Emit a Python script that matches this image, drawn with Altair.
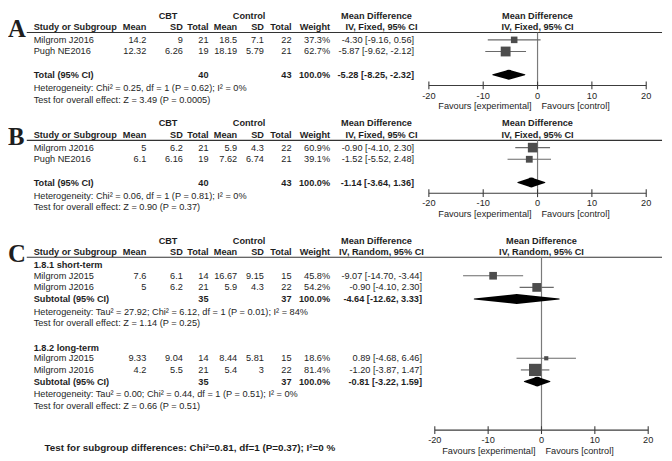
import altair as alt
import pandas as pd

# ============================ data ============================
# Panel A
A_study = ["Milgrom J2016", "Pugh NE2016"]
A_cbt_mean = [14.2, 12.32]
A_cbt_sd = [9, 6.26]
A_cbt_n = [21, 19]
A_ctl_mean = [18.5, 18.19]
A_ctl_sd = [7.1, 5.79]
A_ctl_n = [22, 21]
A_weight = [37.3, 62.7]
A_md = [-4.30, -5.87]
A_lo = [-9.16, -9.62]
A_hi = [0.56, -2.12]
A_total_n = [40, 43]
A_pooled = [-5.28, -8.25, -2.32]          # MD, lower, upper
A_het = "Heterogeneity: Chi² = 0.25, df = 1 (P = 0.62); I² = 0%"
A_effect = "Test for overall effect: Z = 3.49 (P = 0.0005)"

# Panel B
B_study = ["Milgrom J2016", "Pugh NE2016"]
B_cbt_mean = [5, 6.1]
B_cbt_sd = [6.2, 6.16]
B_cbt_n = [21, 19]
B_ctl_mean = [5.9, 7.62]
B_ctl_sd = [4.3, 6.74]
B_ctl_n = [22, 21]
B_weight = [60.9, 39.1]
B_md = [-0.90, -1.52]
B_lo = [-4.10, -5.52]
B_hi = [2.30, 2.48]
B_total_n = [40, 43]
B_pooled = [-1.14, -3.64, 1.36]
B_het = "Heterogeneity: Chi² = 0.06, df = 1 (P = 0.81); I² = 0%"
B_effect = "Test for overall effect: Z = 0.90 (P = 0.37)"

# Panel C, subgroup 1.8.1
C1_label = "1.8.1 short-term"
C1_study = ["Milgrom J2015", "Milgrom J2016"]
C1_cbt_mean = [7.6, 5]
C1_cbt_sd = [6.1, 6.2]
C1_cbt_n = [14, 21]
C1_ctl_mean = [16.67, 5.9]
C1_ctl_sd = [9.15, 4.3]
C1_ctl_n = [15, 22]
C1_weight = [45.8, 54.2]
C1_md = [-9.07, -0.90]
C1_lo = [-14.70, -4.10]
C1_hi = [-3.44, 2.30]
C1_total_n = [35, 37]
C1_pooled = [-4.64, -12.62, 3.33]
C1_het = "Heterogeneity: Tau² = 27.92; Chi² = 6.12, df = 1 (P = 0.01); I² = 84%"
C1_effect = "Test for overall effect: Z = 1.14 (P = 0.25)"

# Panel C, subgroup 1.8.2
C2_label = "1.8.2 long-term"
C2_study = ["Milgrom J2015", "Milgrom J2016"]
C2_cbt_mean = [9.33, 4.2]
C2_cbt_sd = [9.04, 5.5]
C2_cbt_n = [14, 21]
C2_ctl_mean = [8.44, 5.4]
C2_ctl_sd = [5.81, 3]
C2_ctl_n = [15, 22]
C2_weight = [18.6, 81.4]
C2_md = [0.89, -1.20]
C2_lo = [-4.68, -3.87]
C2_hi = [6.46, 1.47]
C2_total_n = [35, 37]
C2_pooled = [-0.81, -3.22, 1.59]
C2_het = "Heterogeneity: Tau² = 0.00; Chi² = 0.44, df = 1 (P = 0.51); I² = 0%"
C2_effect = "Test for overall effect: Z = 0.66 (P = 0.51)"
C_subgroup_test = "Test for subgroup differences: Chi²=0.81, df=1 (P=0.37); I²=0 %"

GROUP_HEADERS = ["CBT", "Control"]
COL_HEADERS = ["Study or Subgroup", "Mean", "SD", "Total", "Mean", "SD", "Total", "Weight"]
EFFECT_HEADER = "Mean Difference"
METHOD = {"A": "IV, Fixed, 95% CI", "B": "IV, Fixed, 95% CI", "C": "IV, Random, 95% CI"}
AXIS_TICKS = [-20, -10, 0, 10, 20]
FAVOURS = ["Favours [experimental]", "Favours [control]"]
TOTAL_LABEL = "Total (95% CI)"
SUBTOTAL_LABEL = "Subtotal (95% CI)"


def pack(study, cm, cs, cn, tm, ts, tn, w, md, lo, hi, tot, pooled):
    return dict(study=study, cbt_mean=cm, cbt_sd=cs, cbt_n=cn, ctl_mean=tm,
                ctl_sd=ts, ctl_n=tn, weight=w, md=md, lo=lo, hi=hi,
                total_n=tot, pooled=pooled)


BLOCK_A = pack(A_study, A_cbt_mean, A_cbt_sd, A_cbt_n, A_ctl_mean, A_ctl_sd, A_ctl_n,
               A_weight, A_md, A_lo, A_hi, A_total_n, A_pooled)
BLOCK_B = pack(B_study, B_cbt_mean, B_cbt_sd, B_cbt_n, B_ctl_mean, B_ctl_sd, B_ctl_n,
               B_weight, B_md, B_lo, B_hi, B_total_n, B_pooled)
BLOCK_C1 = pack(C1_study, C1_cbt_mean, C1_cbt_sd, C1_cbt_n, C1_ctl_mean, C1_ctl_sd, C1_ctl_n,
                C1_weight, C1_md, C1_lo, C1_hi, C1_total_n, C1_pooled)
BLOCK_C2 = pack(C2_study, C2_cbt_mean, C2_cbt_sd, C2_cbt_n, C2_ctl_mean, C2_ctl_sd, C2_ctl_n,
                C2_weight, C2_md, C2_lo, C2_hi, C2_total_n, C2_pooled)

# ============================ layout / style ============================
TEXT_COLOR = "#1e1e1e"
SQUARE_COLOR = "#4d4d4d"
CI_COLOR = "#6a6a6a"
ZERO_COLOR = "#7a7a7a"
AXIS_COLOR = "#3c3c3c"
SANS = "Liberation Sans"
SERIF = "Liberation Serif"
FS = 9.3
DIAMOND_H = 10
TICK_HALF = 4

COL_KEYS = ["study", "cbt_mean", "cbt_sd", "cbt_n", "ctl_mean", "ctl_sd", "ctl_n", "weight"]
COL_X = {"study": 34, "cbt_mean": 148, "cbt_sd": 185, "cbt_n": 211, "ctl_mean": 240,
         "ctl_sd": 267, "ctl_n": 295, "weight": 334}
CI_RIGHT = {"A": 419, "B": 419, "C": 427}
GROUP_X = [170, 252]
MD_HEADER_X = 381
METHOD_HEADER_X = 386
LINE_X = [27, 670]
PANEL_BASE = {"A": 0, "B": 111, "C": 232}

TABLE_X = alt.Scale(domain=[8, 672], range=[0, 664])
FOREST_X = {"AB": alt.Scale(domain=[-20, 20], range=[426, 646]),
            "C": alt.Scale(domain=[-20, 20], range=[432, 648])}
Y_SCALE = alt.Scale(domain=[0, 461], range=[0, 453])

recs, hlines, zeros, axes, ticks, studies, diamonds = [], [], [], [], [], [], []


def txt(x, y, s, scale="table", align="left", bold=False, size=FS, font=SANS, dx=0,
        baseline="middle"):
    recs.append(dict(x=x, y=y, text=s, scale=scale, align=align, bold=bold, size=size,
                     font=font, dx=dx, baseline=baseline))


def num(v):
    return f"{v:g}"


def ci_text(md, lo, hi):
    return f"{md:.2f} [{lo:.2f}, {hi:.2f}]"


def panel_frame(letter, sc, line_y, axis_y, ticklab_y, fav_y):
    base = PANEL_BASE[letter]
    txt(8, base + 27, letter, align="left", bold=True, size=25, font=SERIF, baseline="alphabetic")
    g, h = base + 5, base + 17
    txt(GROUP_X[0], g, GROUP_HEADERS[0], align="center", bold=True)
    txt(GROUP_X[1], g, GROUP_HEADERS[1], align="center", bold=True)
    txt(MD_HEADER_X, g, EFFECT_HEADER, align="center", bold=True)
    txt(0, g, EFFECT_HEADER, scale=sc, align="center", bold=True)
    for key, label in zip(COL_KEYS, COL_HEADERS):
        txt(COL_X[key], h, label, align="left" if key == "study" else "right", bold=True)
    txt(METHOD_HEADER_X, h, METHOD[letter], align="center", bold=True)
    txt(0, h, METHOD[letter], scale=sc, align="center", bold=True)
    hlines.append(dict(x1=LINE_X[0], x2=LINE_X[1], y=base + line_y))
    zeros.append(dict(scale=sc, x=0, y1=base + line_y, y2=base + axis_y))
    axes.append(dict(scale=sc, x1=AXIS_TICKS[0], x2=AXIS_TICKS[-1], y=base + axis_y))
    for t in AXIS_TICKS:
        ticks.append(dict(scale=sc, x=t, y1=base + axis_y - TICK_HALF, y2=base + axis_y + TICK_HALF))
        txt(t, base + ticklab_y, str(t), scale=sc, align="center")
    txt(0, base + fav_y, FAVOURS[0], scale=sc, align="right", dx=-6)
    txt(0, base + fav_y, FAVOURS[1], scale=sc, align="left", dx=4)


def block(b, letter, sc, pid, rows_y, total_y, het_y, eff_y, total_label, het, eff):
    base = PANEL_BASE[letter]
    cr = CI_RIGHT[letter]
    for i, y in enumerate(rows_y):
        y = base + y
        txt(COL_X["study"], y, b["study"][i])
        for key in ["cbt_mean", "cbt_sd", "cbt_n", "ctl_mean", "ctl_sd", "ctl_n"]:
            txt(COL_X[key], y, num(b[key][i]), align="right")
        txt(COL_X["weight"], y, f"{b['weight'][i]:.1f}%", align="right")
        txt(cr, y, ci_text(b["md"][i], b["lo"][i], b["hi"][i]), align="right")
        studies.append(dict(scale=sc, y=y, md=b["md"][i], lo=b["lo"][i], hi=b["hi"][i],
                            weight=b["weight"][i]))
    ty = base + total_y
    md, lo, hi = b["pooled"]
    txt(COL_X["study"], ty, total_label, bold=True)
    txt(COL_X["cbt_n"], ty, str(b["total_n"][0]), align="right", bold=True)
    txt(COL_X["ctl_n"], ty, str(b["total_n"][1]), align="right", bold=True)
    txt(COL_X["weight"], ty, f"{sum(b['weight']):.1f}%", align="right", bold=True)
    txt(cr, ty, ci_text(md, lo, hi), align="right", bold=True)
    for role, v in zip(["lo", "md", "hi"], [lo, md, hi]):
        diamonds.append(dict(scale=sc, pid=pid, y=ty, x=v, role=role))
    txt(COL_X["study"], base + het_y, het)
    txt(COL_X["study"], base + eff_y, eff)


# Panels A and B
for letter, blk, het, eff in [("A", BLOCK_A, A_het, A_effect), ("B", BLOCK_B, B_het, B_effect)]:
    panel_frame(letter, "AB", 22.5, 77, 87.5, 98.5)
    block(blk, letter, "AB", letter, [30, 42], 66, 79.5, 91.5, TOTAL_LABEL, het, eff)

# Panel C
panel_frame("C", "C", 22, 200, 210.5, 221.5)
txt(COL_X["study"], PANEL_BASE["C"] + 30, C1_label, bold=True)
block(BLOCK_C1, "C", "C", "C1", [41, 53], 65, 78, 90, SUBTOTAL_LABEL, C1_het, C1_effect)
txt(COL_X["study"], PANEL_BASE["C"] + 115, C2_label, bold=True)
block(BLOCK_C2, "C", "C", "C2", [126, 138], 150, 163, 175, SUBTOTAL_LABEL, C2_het, C2_effect)
txt(45, PANEL_BASE["C"] + 218, C_subgroup_test, bold=True, size=10)

# ============================ layers ============================
def xscale(sc):
    return TABLE_X if sc == "table" else FOREST_X[sc]


def Yq(field):
    return alt.Y(field, scale=Y_SCALE, axis=None)


layers = []

# header lines
layers.append(
    alt.Chart(pd.DataFrame(hlines)).mark_rule(color="#333333", strokeWidth=1.1).encode(
        x=alt.X("x1:Q", scale=TABLE_X, axis=None), x2="x2:Q", y=Yq("y:Q"))
)

for sc in ["AB", "C"]:
    X = FOREST_X[sc]
    z = pd.DataFrame([r for r in zeros if r["scale"] == sc])
    layers.append(alt.Chart(z).mark_rule(color=ZERO_COLOR, strokeWidth=1.2).encode(
        x=alt.X("x:Q", scale=X, axis=None), y=Yq("y1:Q"), y2="y2:Q"))
    s = pd.DataFrame([r for r in studies if r["scale"] == sc])
    layers.append(alt.Chart(s).mark_rule(color=CI_COLOR, strokeWidth=1.2).encode(
        x=alt.X("lo:Q", scale=X, axis=None), x2="hi:Q", y=Yq("y:Q")))
    layers.append(alt.Chart(s).transform_calculate(
        area="pow(1.8 + 0.13 * datum.weight, 2)").mark_square(
        color=SQUARE_COLOR, opacity=1, filled=True).encode(
        x=alt.X("md:Q", scale=X, axis=None), y=Yq("y:Q"),
        size=alt.Size("area:Q", scale=None)))
    d = pd.DataFrame([r for r in diamonds if r["scale"] == sc])
    layers.append(alt.Chart(d).transform_calculate(
        w=f"datum.role == 'md' ? {DIAMOND_H} : 0").mark_trail(color="#000000").encode(
        x=alt.X("x:Q", scale=X, axis=None), y=Yq("y:Q"),
        size=alt.Size("w:Q", scale=None), detail="pid:N", order=alt.Order("x:Q")))
    a = pd.DataFrame([r for r in axes if r["scale"] == sc])
    layers.append(alt.Chart(a).mark_rule(color=AXIS_COLOR, strokeWidth=1.1).encode(
        x=alt.X("x1:Q", scale=X, axis=None), x2="x2:Q", y=Yq("y:Q")))
    t = pd.DataFrame([r for r in ticks if r["scale"] == sc])
    layers.append(alt.Chart(t).mark_rule(color=AXIS_COLOR, strokeWidth=1.1).encode(
        x=alt.X("x:Q", scale=X, axis=None), y=Yq("y1:Q"), y2="y2:Q"))

tdf = pd.DataFrame(recs)
keys = ["scale", "align", "bold", "size", "font", "dx", "baseline"]
for key, g in tdf.groupby(keys, sort=False):
    sc, al, bd, sz, ft, dx, bl = key
    layers.append(
        alt.Chart(g[["x", "y", "text"]].reset_index(drop=True)).mark_text(
            align=str(al), baseline=str(bl), fontWeight="bold" if bool(bd) else "normal",
            fontSize=float(sz), font=str(ft), dx=int(dx), color=TEXT_COLOR).encode(
            x=alt.X("x:Q", scale=xscale(sc), axis=None), y=Yq("y:Q"), text=alt.Text("text:N"))
    )

chart = alt.layer(*layers).resolve_scale(x="independent").properties(
    width=664, height=453, padding=0, autosize="none", background="white"
).configure_view(stroke=None)

chart.save("out.html", embed_options={"renderer": "svg", "actions": False})
